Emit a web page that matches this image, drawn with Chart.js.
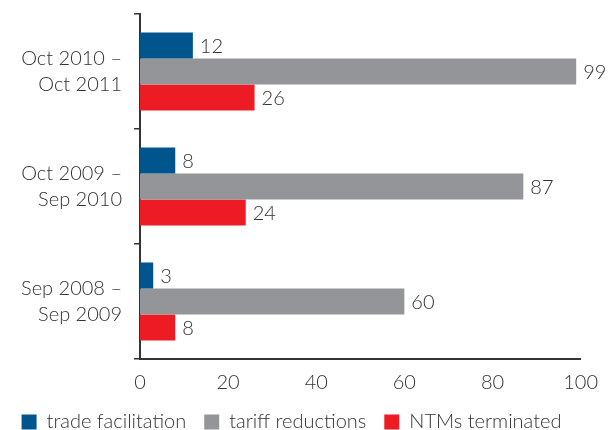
<!DOCTYPE html>
<html>
<head>
<meta charset="utf-8">
<script src="https://cdn.jsdelivr.net/npm/chart.js@4.4.0/dist/chart.umd.min.js"></script>
<style>
  html, body { margin: 0; padding: 0; background: #fff; }
  #wrap { position: relative; width: 610px; height: 430px; }
</style>
</head>
<body>
<div id="wrap"><canvas id="tradeChart"></canvas></div>
<script>
// Data
const periods = [['Oct 2010 \u2013', 'Oct 2011'], ['Oct 2009 \u2013', 'Sep 2010'], ['Sep 2008 \u2013', 'Sep 2009']];
const tradeFacilitation = [12, 8, 3];
const tariffReductions = [99, 87, 60];
const ntmsTerminated = [26, 24, 8];
const xTicks = [0, 20, 40, 60, 80, 100];

const textColor = '#333333';
const fontFamily = 'Lato, "Open Sans", sans-serif';

// Draws value labels to the right of each bar
const valueLabels = {
    id: 'valueLabels',
    afterDatasetsDraw(chart) {
        const ctx = chart.ctx;
        ctx.save();
        ctx.font = '300 20px ' + fontFamily;
        ctx.fillStyle = textColor;
        ctx.textAlign = 'left';
        ctx.textBaseline = 'middle';
        chart.data.datasets.forEach((ds, i) => {
            chart.getDatasetMeta(i).data.forEach((bar, j) => {
                ctx.fillText(ds.data[j], bar.x + 7, bar.y + 1);
            });
        });
        ctx.restore();
    }
};

const ctx = document.getElementById('tradeChart').getContext('2d');
new Chart(ctx, {
    type: 'bar',
    data: {
        labels: periods,
        datasets: [{
            label: 'trade facilitation',
            data: tradeFacilitation,
            backgroundColor: '#00558c'
        },
        {
            label: 'tariff reductions',
            data: tariffReductions,
            backgroundColor: '#939598'
        },
        {
            label: 'NTMs terminated',
            data: ntmsTerminated,
            backgroundColor: '#ed1c24'
        }]
    },
    options: {
        indexAxis: 'y',
        responsive: true,
        maintainAspectRatio: false,
        animation: false,
        datasets: {
            bar: {
                categoryPercentage: 0.68,
                barPercentage: 1.0,
                borderWidth: 0
            }
        },
        layout: {
            padding: { top: 14, right: 27, left: 0, bottom: -12 }
        },
        plugins: {
            tooltip: { enabled: false },
            legend: {
                position: 'bottom',
                labels: {
                    color: textColor,
                    font: { family: fontFamily, size: 20, weight: '300' },
                    boxWidth: 15,
                    boxHeight: 15,
                    padding: 18
                }
            }
        },
        scales: {
            x: {
                min: 0,
                max: 100,
                afterBuildTicks: scale => {
                    scale.ticks = xTicks.map(v => ({ value: v }));
                },
                afterFit: scale => { scale.height = 35; },
                grid: { display: false, drawTicks: false },
                border: { display: true, color: '#333333', width: 2 },
                ticks: {
                    color: textColor,
                    padding: 12,
                    font: { family: fontFamily, size: 20, weight: '300' }
                }
            },
            y: {
                afterFit: scale => {
                    scale.width = 140;
                    scale.paddingTop = 0;
                    scale.paddingBottom = 0;
                },
                grid: {
                    offset: true,
                    drawOnChartArea: false,
                    drawTicks: true,
                    tickLength: 6,
                    color: '#333333',
                    lineWidth: 1.5
                },
                border: { display: true, color: '#333333', width: 2 },
                ticks: {
                    color: textColor,
                    padding: 12,
                    font: { family: fontFamily, size: 20, weight: '300', lineHeight: 1.3 }
                }
            }
        }
    },
    plugins: [valueLabels]
});
</script>
</body>
</html>
